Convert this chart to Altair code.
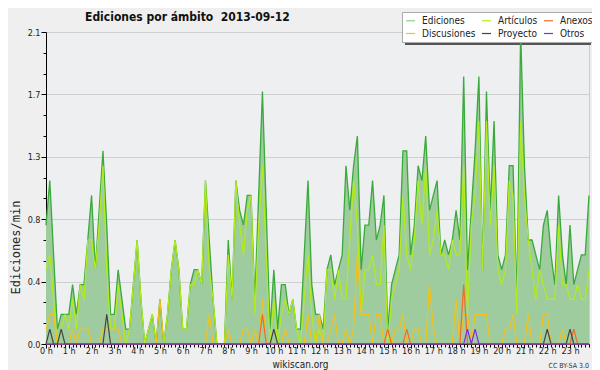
import altair as alt
import pandas as pd

N = 144  # 10-minute intervals

EDICIONES = [
    0.8, 1.1, 0.6, 0.1, 0.2, 0.2, 0.2, 0.4, 0.2, 0.4, 0.4, 0.7,
    1.0, 0.5, 0.9, 1.3, 0.8, 0.2, 0.2, 0.5, 0.3, 0.1, 0.1, 0.4,
    0.7, 0.3, 0.0, 0.1, 0.2, 0.0, 0.3, 0.0, 0.2, 0.5, 0.7, 0.5,
    0.1, 0.1, 0.4, 0.5, 0.5, 0.4, 1.1, 0.7, 0.3, 0.0, 0.0, 0.0,
    0.7, 0.3, 1.1, 0.9, 0.8, 1.0, 1.0, 0.3, 1.0, 1.7, 0.9, 0.1,
    0.5, 0.1, 0.4, 0.4, 0.2, 0.3, 0.1, 0.1, 0.6, 1.1, 0.4, 0.2,
    0.2, 0.1, 0.5, 0.6, 0.4, 0.5, 0.6, 1.2, 0.9, 1.2, 1.4, 0.5,
    0.8, 0.8, 1.1, 0.7, 0.8, 1.0, 0.1, 0.4, 0.5, 0.6, 1.3, 1.3,
    0.6, 0.8, 1.2, 1.1, 1.4, 0.9, 1.0, 1.1, 0.6, 0.7, 0.6, 0.7,
    0.9, 0.7, 1.8, 0.5, 0.9, 1.3, 1.8, 0.5, 1.7, 0.9, 1.5, 0.6,
    0.5, 0.6, 1.2, 1.2, 0.3, 2.1, 1.2, 0.7, 0.7, 0.6, 0.5, 0.8,
    0.9, 0.6, 0.4, 1.0, 0.6, 0.4, 0.8, 0.4, 0.5, 0.6, 0.6, 1.0,
]
ARTICULOS = [
    0.5, 0.6, 0.3, 0.0, 0.1, 0.2, 0.1, 0.3, 0.1, 0.4, 0.3, 0.7,
    0.7, 0.5, 0.8, 1.2, 0.5, 0.1, 0.1, 0.4, 0.2, 0.0, 0.1, 0.4,
    0.7, 0.3, 0.0, 0.1, 0.2, 0.0, 0.0, 0.0, 0.2, 0.5, 0.7, 0.5,
    0.1, 0.1, 0.4, 0.4, 0.5, 0.4, 1.1, 0.5, 0.3, 0.0, 0.0, 0.0,
    0.6, 0.3, 1.1, 0.8, 0.6, 0.9, 1.0, 0.2, 0.8, 1.2, 0.6, 0.0,
    0.3, 0.0, 0.2, 0.3, 0.2, 0.3, 0.1, 0.0, 0.3, 0.6, 0.2, 0.0,
    0.1, 0.0, 0.5, 0.5, 0.3, 0.5, 0.3, 0.3, 0.7, 1.1, 0.8, 0.2,
    0.5, 0.5, 0.6, 0.4, 0.4, 0.8, 0.0, 0.3, 0.4, 0.5, 1.0, 0.6,
    0.5, 0.7, 1.1, 0.8, 1.2, 0.6, 0.7, 0.9, 0.6, 0.6, 0.5, 0.7,
    0.6, 0.6, 1.2, 0.2, 0.8, 1.0, 1.5, 0.5, 1.5, 0.8, 1.2, 0.5,
    0.4, 0.5, 1.1, 1.0, 0.2, 1.5, 1.0, 0.7, 0.5, 0.3, 0.5, 0.4,
    0.3, 0.3, 0.3, 0.8, 0.4, 0.4, 0.3, 0.3, 0.4, 0.3, 0.3, 0.5,
]
DISCUSIONES = [
    0.1, 0.2, 0.2, 0.0, 0.0, 0.0, 0.0, 0.1, 0.0, 0.1, 0.1, 0.1,
    0.0, 0.0, 0.0, 0.1, 0.1, 0.1, 0.1, 0.1, 0.0, 0.0, 0.0, 0.0,
    0.0, 0.0, 0.0, 0.0, 0.0, 0.0, 0.3, 0.0, 0.0, 0.0, 0.0, 0.0,
    0.0, 0.0, 0.0, 0.0, 0.0, 0.0, 0.0, 0.2, 0.0, 0.0, 0.0, 0.0,
    0.1, 0.0, 0.0, 0.0, 0.1, 0.1, 0.0, 0.1, 0.0, 0.3, 0.0, 0.0,
    0.0, 0.0, 0.0, 0.1, 0.0, 0.0, 0.0, 0.0, 0.0, 0.2, 0.0, 0.0,
    0.2, 0.0, 0.0, 0.1, 0.2, 0.0, 0.0, 0.1, 0.0, 0.1, 0.6, 0.2,
    0.2, 0.2, 0.0, 0.2, 0.2, 0.0, 0.1, 0.0, 0.1, 0.1, 0.2, 0.0,
    0.0, 0.1, 0.1, 0.0, 0.0, 0.4, 0.1, 0.0, 0.0, 0.0, 0.0, 0.0,
    0.3, 0.0, 0.2, 0.2, 0.0, 0.2, 0.2, 0.2, 0.2, 0.0, 0.0, 0.0,
    0.0, 0.1, 0.1, 0.2, 0.0, 0.0, 0.0, 0.2, 0.0, 0.0, 0.0, 0.2,
    0.2, 0.0, 0.0, 0.0, 0.1, 0.0, 0.0, 0.0, 0.0, 0.0, 0.0, 0.0,
]
ANEXOS = [
    0.0, 0.0, 0.0, 0.0, 0.0, 0.0, 0.0, 0.0, 0.0, 0.0, 0.0, 0.0,
    0.0, 0.0, 0.0, 0.0, 0.0, 0.0, 0.0, 0.0, 0.0, 0.0, 0.0, 0.0,
    0.0, 0.0, 0.0, 0.0, 0.0, 0.0, 0.0, 0.0, 0.0, 0.0, 0.0, 0.0,
    0.0, 0.0, 0.0, 0.0, 0.0, 0.0, 0.0, 0.0, 0.0, 0.0, 0.0, 0.0,
    0.0, 0.0, 0.0, 0.0, 0.0, 0.0, 0.0, 0.0, 0.0, 0.2, 0.0, 0.0,
    0.0, 0.0, 0.0, 0.0, 0.0, 0.0, 0.0, 0.0, 0.0, 0.0, 0.0, 0.0,
    0.0, 0.0, 0.0, 0.0, 0.0, 0.0, 0.0, 0.0, 0.0, 0.0, 0.0, 0.0,
    0.0, 0.0, 0.0, 0.0, 0.0, 0.0, 0.1, 0.0, 0.0, 0.0, 0.0, 0.1,
    0.0, 0.0, 0.0, 0.0, 0.0, 0.0, 0.0, 0.0, 0.0, 0.0, 0.0, 0.0,
    0.0, 0.0, 0.4, 0.0, 0.0, 0.0, 0.0, 0.0, 0.0, 0.0, 0.0, 0.0,
    0.0, 0.0, 0.0, 0.0, 0.0, 0.0, 0.0, 0.0, 0.0, 0.0, 0.0, 0.0,
    0.0, 0.0, 0.0, 0.0, 0.0, 0.0, 0.0, 0.1, 0.0, 0.0, 0.0, 0.0,
]
PROYECTO = [
    0.0, 0.1, 0.0, 0.0, 0.1, 0.0, 0.0, 0.0, 0.0, 0.0, 0.0, 0.0,
    0.0, 0.0, 0.0, 0.0, 0.2, 0.0, 0.0, 0.0, 0.0, 0.0, 0.0, 0.0,
    0.0, 0.0, 0.0, 0.0, 0.0, 0.0, 0.0, 0.0, 0.0, 0.0, 0.0, 0.0,
    0.0, 0.0, 0.0, 0.0, 0.0, 0.0, 0.0, 0.0, 0.0, 0.0, 0.0, 0.0,
    0.0, 0.0, 0.0, 0.0, 0.0, 0.0, 0.0, 0.0, 0.0, 0.0, 0.0, 0.0,
    0.1, 0.0, 0.0, 0.0, 0.0, 0.0, 0.0, 0.0, 0.0, 0.0, 0.0, 0.0,
    0.0, 0.0, 0.0, 0.0, 0.0, 0.0, 0.0, 0.0, 0.0, 0.0, 0.0, 0.0,
    0.0, 0.0, 0.0, 0.0, 0.0, 0.0, 0.0, 0.0, 0.0, 0.0, 0.0, 0.0,
    0.0, 0.0, 0.0, 0.0, 0.0, 0.0, 0.0, 0.0, 0.0, 0.0, 0.0, 0.0,
    0.0, 0.0, 0.0, 0.0, 0.0, 0.0, 0.0, 0.0, 0.0, 0.0, 0.0, 0.0,
    0.0, 0.0, 0.0, 0.0, 0.0, 0.0, 0.0, 0.0, 0.0, 0.0, 0.0, 0.0,
    0.1, 0.0, 0.0, 0.0, 0.0, 0.0, 0.1, 0.0, 0.0, 0.0, 0.0, 0.0,
]
OTROS = [
    0.0, 0.0, 0.0, 0.0, 0.0, 0.0, 0.0, 0.0, 0.0, 0.0, 0.0, 0.0,
    0.0, 0.0, 0.0, 0.0, 0.0, 0.0, 0.0, 0.0, 0.0, 0.0, 0.0, 0.0,
    0.0, 0.0, 0.0, 0.0, 0.0, 0.0, 0.0, 0.0, 0.0, 0.0, 0.0, 0.0,
    0.0, 0.0, 0.0, 0.0, 0.0, 0.0, 0.0, 0.0, 0.0, 0.0, 0.0, 0.0,
    0.0, 0.0, 0.0, 0.0, 0.0, 0.0, 0.0, 0.0, 0.0, 0.0, 0.0, 0.0,
    0.0, 0.0, 0.0, 0.0, 0.0, 0.0, 0.0, 0.0, 0.0, 0.0, 0.0, 0.0,
    0.0, 0.0, 0.0, 0.0, 0.0, 0.0, 0.0, 0.0, 0.0, 0.0, 0.0, 0.0,
    0.0, 0.0, 0.0, 0.0, 0.0, 0.0, 0.0, 0.0, 0.0, 0.0, 0.0, 0.0,
    0.0, 0.0, 0.0, 0.0, 0.0, 0.0, 0.0, 0.0, 0.0, 0.0, 0.0, 0.0,
    0.0, 0.0, 0.0, 0.1, 0.0, 0.1, 0.0, 0.0, 0.0, 0.0, 0.0, 0.0,
    0.0, 0.0, 0.0, 0.0, 0.0, 0.0, 0.0, 0.0, 0.0, 0.0, 0.0, 0.0,
    0.0, 0.0, 0.0, 0.0, 0.0, 0.0, 0.0, 0.0, 0.0, 0.0, 0.0, 0.0,
]

# legend is laid out column by column: (Ediciones, Discusiones), (Artículos, Proyecto), (Anexos, Otros)
SERIES = ["Ediciones", "Discusiones", "Artículos", "Proyecto", "Anexos", "Otros"]
COLORS = ["#8fcf8f", "#f2c21a", "#b2ec1a", "#444444", "#f26a2a", "#7b2cf0"]
X_LABELS = [f"{h} h" for h in range(24)]
Y_TICKS = [round(k * 0.14, 2) for k in range(16)]
TITLE = "Ediciones por ámbito \u00a02013-09-12"
SITE = "wikiscan.org"
LICENSE = "CC BY-SA 3.0"

FONT = "DejaVu Sans Condensed, Liberation Sans Narrow, DejaVu Sans, sans-serif"

ed_df = pd.DataFrame({"i": list(range(N)), "v": EDICIONES})
parts = []
for name, vals in [("Artículos", ARTICULOS), ("Discusiones", DISCUSIONES),
                   ("Anexos", ANEXOS), ("Proyecto", PROYECTO), ("Otros", OTROS)]:
    parts.append(pd.DataFrame({"i": list(range(N)), "v": vals, "serie": name}))
lines_df = pd.concat(parts, ignore_index=True)

label_js = "[" + ",".join("'" + s + "'" for s in X_LABELS) + "]"

x_enc = alt.X(
    "i:Q",
    scale=alt.Scale(domain=[0, N - 1], nice=False, zero=False),
    axis=alt.Axis(
        values=list(range(N)),
        labelExpr=f"datum.value % 6 == 0 ? {label_js}[datum.value / 6] : ''",
        tickSize={"condition": {"test": "datum.value % 6 == 0", "value": 4}, "value": 3},
        labelOverlap=False,
        labelFlush=False,
        labelPadding=-2,
        labelFontSize=9,
        grid=False,
        title=SITE,
        titleFontSize=10,
        titleFontWeight="normal",
        titlePadding=4,
        titleX=254,
        titleAlign="center",
    ),
)
y_enc = alt.Y(
    "v:Q",
    scale=alt.Scale(domain=[0, 2.1], nice=False),
    axis=alt.Axis(
        values=Y_TICKS,
        labelExpr="round(datum.value / 0.14) % 3 == 0 ? format(datum.value, '.1f') : ''",
        tickSize={"condition": {"test": "round(datum.value / 0.14) % 3 == 0", "value": 5}, "value": 3},
        gridOpacity={"condition": {"test": "round(datum.value / 0.14) % 3 == 0", "value": 1}, "value": 0},
        labelFontSize=9,
        labelPadding=1,
        title="Ediciones/min",
        titleFont="DejaVu Sans Mono",
        titleFontSize=12,
        titleFontWeight="normal",
        titleX=-36,
        titleY=215,
        titleAlign="center",
        titleBaseline="top",
    ),
)

# legend drop shadow: a strip on the right and one below the legend box
shadow_df = pd.DataFrame({"s": [0]})
shadow_right = alt.Chart(shadow_df).mark_rect(color="#555555").encode(
    x=alt.value(542), x2=alt.value(545), y=alt.value(-17), y2=alt.value(13)
)
shadow_bottom = alt.Chart(shadow_df).mark_rect(color="#555555").encode(
    x=alt.value(359), x2=alt.value(545), y=alt.value(10), y2=alt.value(13)
)

area = alt.Chart(ed_df).mark_area(
    color="#9ecc9e", opacity=1, interpolate="linear",
    line={"color": "#3aaa3a", "strokeWidth": 1.3},
).encode(x=x_enc, y=y_enc)

lines = alt.Chart(lines_df).mark_line(strokeWidth=1.2, interpolate="linear").encode(
    x=x_enc,
    y=y_enc,
    color=alt.Color(
        "serie:N",
        scale=alt.Scale(domain=SERIES, range=COLORS),
        legend=alt.Legend(
            title=None,
            orient="none",
            legendX=356,
            legendY=-20,
            columns=3,
            symbolType="stroke",
            symbolSize=81,
            symbolStrokeWidth=1.2,
            labelFontSize=10,
            labelFont=FONT,
            labelColor="#222222",
            fillColor="white",
            strokeColor="#aaaaaa",
            padding=3,
            rowPadding=2,
            columnPadding=3,
            labelOffset=6,
        ),
    ),
)

title_txt = alt.Chart(pd.DataFrame({"t": [TITLE]})).mark_text(
    align="left", baseline="alphabetic", fontSize=12, fontWeight="bold", font=FONT, color="#111111"
).encode(x=alt.value(39), y=alt.value(-11), text="t:N")

footer = alt.Chart(pd.DataFrame({"t": [LICENSE]})).mark_text(
    align="right", baseline="alphabetic", fontSize=7, font=FONT, color="#333333"
).encode(x=alt.value(543), y=alt.value(336), text="t:N")

chart = alt.layer(shadow_right, shadow_bottom, area, lines, title_txt, footer).properties(
    width=543,
    height=312,
    padding={"left": 38, "top": 24, "right": 3, "bottom": 26},
    autosize=alt.AutoSizeParams(type="none"),
    background="#efefef",
).configure_view(
    fill="#edeff1", stroke="#cccccc"
).configure_axis(
    domainColor="black",
    tickColor="black",
    labelColor="#222222",
    labelFont=FONT,
    titleFont=FONT,
    titleColor="#222222",
    gridColor="#cfcfcf",
)

chart.save("out.html", embed_options={"renderer": "svg", "actions": False})
